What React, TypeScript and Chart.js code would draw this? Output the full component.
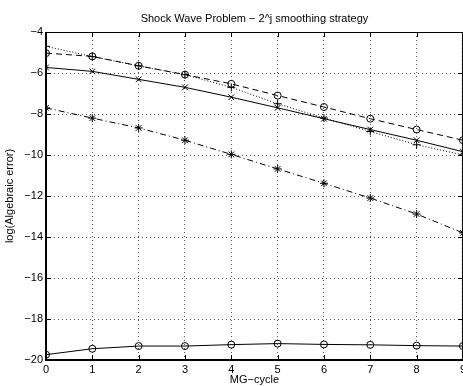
import React, { useEffect, useRef } from "react";
import { Chart, registerables } from "chart.js";

Chart.register(...registerables);

const cycles = [0, 1, 2, 3, 4, 5, 6, 7, 8, 9];
const circDashed = [-5.03, -5.19, -5.65, -6.08, -6.53, -7.1, -7.66, -8.23, -8.76, -9.28];
const xSolid = [-5.73, -5.92, -6.31, -6.7, -7.18, -7.7, -8.23, -8.76, -9.28, -9.84];
const plusDotted = [-4.7, -5.2, -5.65, -6.08, -6.7, -7.5, -8.2, -8.85, -9.5, -10.0];
const starDashDot = [-7.7, -8.2, -8.68, -9.28, -9.97, -10.68, -11.38, -12.1, -12.88, -13.8];
const circSolid = [-19.74, -19.45, -19.32, -19.32, -19.25, -19.2, -19.24, -19.26, -19.3, -19.32];

const yTicks = [-20, -18, -16, -14, -12, -10, -8, -6, -4];
const TITLE = "Shock Wave Problem \u2212 2^j smoothing strategy";

const FONT = "'Liberation Sans', Arial, Helvetica, sans-serif";

const toPts = (ys: number[]) => cycles.map((x, i) => ({ x, y: ys[i] }));

const boxPlugin = {
  id: "matlabBox",
  afterDraw(chart: any) {
    const { ctx, chartArea: a, scales } = chart;
    const xs = scales.x;
    const ys = scales.y;
    ctx.save();
    ctx.setLineDash([]);
    ctx.strokeStyle = "#000";
    ctx.lineWidth = 1;
    ctx.beginPath();
    cycles.forEach((v) => {
      const px = Math.round(xs.getPixelForValue(v)) + 0.5;
      ctx.moveTo(px, a.bottom);
      ctx.lineTo(px, a.bottom - 5);
      ctx.moveTo(px, a.top);
      ctx.lineTo(px, a.top + 5);
    });
    yTicks.forEach((v) => {
      const py = Math.round(ys.getPixelForValue(v)) + 0.5;
      ctx.moveTo(a.left, py);
      ctx.lineTo(a.left + 5, py);
      ctx.moveTo(a.right, py);
      ctx.lineTo(a.right - 5, py);
    });
    ctx.stroke();
    ctx.beginPath();
    ctx.moveTo(a.left, a.top + 0.5);
    ctx.lineTo(a.right, a.top + 0.5);
    ctx.moveTo(a.right - 0.5, a.top);
    ctx.lineTo(a.right - 0.5, a.bottom);
    ctx.stroke();
    ctx.lineWidth = 2;
    ctx.beginPath();
    ctx.moveTo(a.left, a.top);
    ctx.lineTo(a.left, a.bottom);
    ctx.lineTo(a.right, a.bottom);
    ctx.stroke();
    // title centred over the plot area
    ctx.fillStyle = "#000";
    ctx.font = `11px ${FONT}`;
    ctx.textAlign = "center";
    ctx.textBaseline = "middle";
    ctx.fillText(TITLE, (a.left + a.right) / 2, 18.5);
    ctx.restore();
  },
};

export default function App() {
  const ref = useRef<HTMLCanvasElement | null>(null);
  useEffect(() => {
    if (!ref.current) return;
    const common = {
      borderColor: "#000",
      pointBorderColor: "#000",
      pointBackgroundColor: "rgba(0,0,0,0)",
      borderWidth: 1,
      pointBorderWidth: 1,
      pointRadius: 3.5,
      tension: 0,
      fill: false,
    };
    const chart = new Chart(ref.current, {
      type: "line",
      data: {
        datasets: [
          { ...common, label: "a", data: toPts(circDashed), borderDash: [6, 4], pointStyle: "circle" },
          { ...common, label: "b", data: toPts(xSolid), pointStyle: "crossRot", pointRadius: 4 },
          { ...common, label: "c", data: toPts(plusDotted), borderDash: [1, 2], pointStyle: "cross", pointRadius: 4 },
          { ...common, label: "d", data: toPts(starDashDot), borderDash: [6, 3, 1, 3], pointStyle: "star", pointRadius: 4 },
          { ...common, label: "e", data: toPts(circSolid), pointStyle: "circle" },
        ] as any,
      },
      options: {
        responsive: false,
        animation: false,
        devicePixelRatio: 1,
        layout: { padding: { left: 0, right: 0, top: 32, bottom: 0 } },
        plugins: {
          legend: { display: false },
          tooltip: { enabled: false },
          title: { display: false },
        },
        scales: {
          x: {
            type: "linear",
            min: 0,
            max: 9,
            border: { display: false, dash: [1, 3] },
            grid: { color: "#555", lineWidth: 1, drawTicks: false },
            afterFit: (s: any) => {
              s.height = 26;
            },
            ticks: {
              stepSize: 1,
              color: "#000",
              padding: 3,
              maxRotation: 0,
              font: { family: FONT, size: 11 },
            },
            title: {
              display: true,
              text: "MG\u2212cycle",
              color: "#000",
              font: { family: FONT, size: 11 },
              padding: { top: 0, bottom: -1 },
            },
          },
          y: {
            type: "linear",
            min: -20,
            max: -4,
            border: { display: false, dash: [1, 3] },
            grid: { color: "#555", lineWidth: 1, drawTicks: false },
            afterFit: (s: any) => {
              s.width = 46;
            },
            ticks: {
              stepSize: 2,
              color: "#000",
              padding: 3,
              font: { family: FONT, size: 11 },
              callback: (v: any) => String(v).replace("-", "\u2212"),
            },
            title: {
              display: true,
              text: "log(Algebraic error)",
              color: "#000",
              font: { family: FONT, size: 11 },
              padding: { top: 3, bottom: 0 },
            },
          },
        },
      } as any,
      plugins: [boxPlugin],
    });
    return () => chart.destroy();
  }, []);
  return (
    <div style={{ position: "fixed", left: 0, top: 0, width: 469, height: 386, background: "#fff" }}>
      <canvas ref={ref} width={469} height={386} />
    </div>
  );
}
